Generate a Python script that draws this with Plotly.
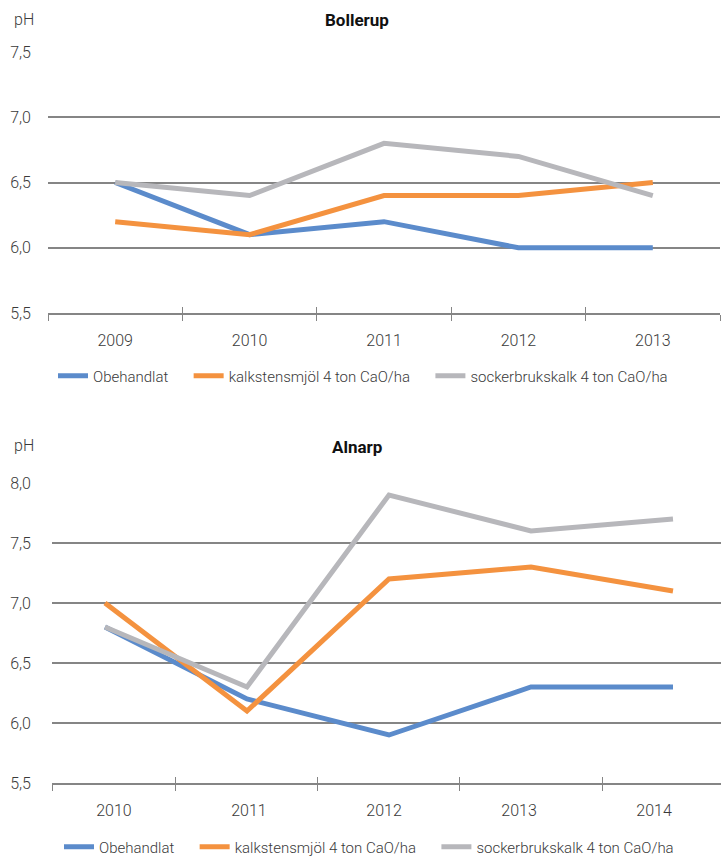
import plotly.graph_objects as go

# --- data -------------------------------------------------------------
series_names = ["Obehandlat", "kalkstensmjöl 4 ton CaO/ha", "sockerbrukskalk 4 ton CaO/ha"]
series_colors = ["#5B8BCB", "#F4923F", "#B7B7BB"]

bollerup_years = [2009, 2010, 2011, 2012, 2013]
bollerup_obehandlat = [6.5, 6.1, 6.2, 6.0, 6.0]
bollerup_kalkstensmjol = [6.2, 6.1, 6.4, 6.4, 6.5]
bollerup_sockerbrukskalk = [6.5, 6.4, 6.8, 6.7, 6.4]

alnarp_years = [2010, 2011, 2012, 2013, 2014]
alnarp_obehandlat = [6.8, 6.2, 5.9, 6.3, 6.3]
alnarp_kalkstensmjol = [7.0, 6.1, 7.2, 7.3, 7.1]
alnarp_sockerbrukskalk = [6.8, 6.3, 7.9, 7.6, 7.7]

y_ticks_bollerup = [5.5, 6.0, 6.5, 7.0, 7.5]
y_ticks_alnarp = [5.5, 6.0, 6.5, 7.0, 7.5, 8.0]

# --- page geometry (pixels) -------------------------------------------
W, H = 721, 857
FONT = "Roboto, Liberation Sans, sans-serif"
TEXT = "#3a3a3a"
GRID = "#858585"
LEGEND_PAD = "\u2003"  # extra room after each legend entry


def py(px):
    """pixel row -> paper y fraction"""
    return 1 - px / H


def pxf(px):
    return px / W


fig = go.Figure()

panels = [
    dict(years=bollerup_years,
         values=[bollerup_obehandlat, bollerup_kalkstensmjol, bollerup_sockerbrukskalk],
         xa="x", ya="y", legend="legend", overlays=["x2", "x3"]),
    dict(years=alnarp_years,
         values=[alnarp_obehandlat, alnarp_kalkstensmjol, alnarp_sockerbrukskalk],
         xa="x4", ya="y2", legend="legend2", overlays=["x5", "x6"]),
]

for p in panels:
    for name, color, vals in zip(series_names, series_colors, p["values"]):
        fig.add_trace(go.Scatter(
            x=p["years"], y=vals, name=name + LEGEND_PAD, mode="lines",
            line=dict(color=color, width=5),
            xaxis=p["xa"], yaxis=p["ya"], legend=p["legend"],
            hoverinfo="skip",
        ))
    # empty traces so the overlay axes (inner ticks, year labels) get drawn
    for ov in p["overlays"]:
        fig.add_trace(go.Scatter(x=[], y=[], xaxis=ov, yaxis=p["ya"],
                                 showlegend=False, hoverinfo="skip"))

# --- axes --------------------------------------------------------------
tick_font = dict(family=FONT, size=16, color=TEXT, weight=300)


def x_axes(years, data_range, label_range, domain, anchor, ids):
    """base axis (line + outward ticks), inward ticks, year labels"""
    lo = data_range[0]
    bounds = [y + 0.5 for y in [years[0] - 1] + years]
    bounds = [b for b in bounds if data_range[0] - 1e-9 <= b <= data_range[1] + 1e-9]
    if abs(bounds[0] - lo) > 1e-6:
        bounds = [lo] + bounds
    base, inner, labels = ids
    common = dict(domain=domain, anchor=anchor, showgrid=False, zeroline=False,
                  fixedrange=True)
    axes = {
        base: dict(range=data_range, tickvals=bounds, ticks="outside", ticklen=6,
                   tickcolor=GRID, tickwidth=1.3, showticklabels=False,
                   showline=True, linecolor=GRID, linewidth=1.5, **common),
        inner: dict(range=data_range, tickvals=bounds, ticks="inside", ticklen=6,
                    tickcolor=GRID, tickwidth=1.3, showticklabels=False,
                    showline=False, overlaying=base.replace("axis", ""), **common),
        labels: dict(range=label_range, tickvals=years, ticktext=[str(y) for y in years],
                     ticks="", showticklabels=True, tickfont=tick_font,
                     ticklabelstandoff=16, showline=False,
                     overlaying=base.replace("axis", ""), **common),
    }
    return axes


# Bollerup: five equal columns across the plot width
fig.update_layout(**x_axes(
    bollerup_years, [2008.5, 2013.5], [2008.5, 2013.5],
    [pxf(48), pxf(720)], "y", ("xaxis", "xaxis2", "xaxis3")))

# Alnarp
fig.update_layout(**x_axes(
    alnarp_years, [2009.627, 2014.338], [2009.541, 2014.496],
    [pxf(52), 1.0], "y2", ("xaxis4", "xaxis5", "xaxis6")))

y_common = dict(showgrid=True, gridcolor=GRID, gridwidth=1.5, zeroline=False,
                showline=False, ticks="", tickformat=".1f", tickfont=tick_font,
                fixedrange=True)
fig.update_layout(
    yaxis=dict(range=[5.5, 7.5], tickvals=y_ticks_bollerup, anchor="x",
               domain=[py(313), py(52)], ticklabelstandoff=16, **y_common),
    yaxis2=dict(range=[5.5, 8.0], tickvals=y_ticks_alnarp, anchor="x4",
                domain=[py(783), py(483)], ticklabelstandoff=20, **y_common),
)

# --- titles & unit labels ---------------------------------------------
ann = []
for title, ty in [("Bollerup", 20), ("Alnarp", 447)]:
    ann.append(dict(text="<b>" + title + "</b>", x=pxf(357), y=py(ty), xref="paper", yref="paper",
                    showarrow=False, xanchor="center", yanchor="middle",
                    font=dict(family=FONT, size=17, color="#111111")))
    ann.append(dict(text="pH", x=pxf(12), y=py(ty - 1), xref="paper", yref="paper",
                    showarrow=False, xanchor="left", yanchor="middle",
                    font=dict(family=FONT, size=16, color=TEXT, weight=300)))

legend_common = dict(orientation="h", xanchor="left", yanchor="middle",
                     font=dict(family=FONT, size=15, color=TEXT, weight=300),
                     bgcolor="rgba(0,0,0,0)", itemclick=False, itemdoubleclick=False)

fig.update_layout(
    width=W, height=H,
    margin=dict(l=0, r=0, t=0, b=0, autoexpand=False),
    paper_bgcolor="white", plot_bgcolor="white",
    separators=", ",
    showlegend=True,
    legend=dict(x=pxf(53), y=py(376), **legend_common),
    legend2=dict(x=pxf(59), y=py(847), **legend_common),
    annotations=ann,
    font=dict(family=FONT, color=TEXT),
)

fig.write_html("out.html")
